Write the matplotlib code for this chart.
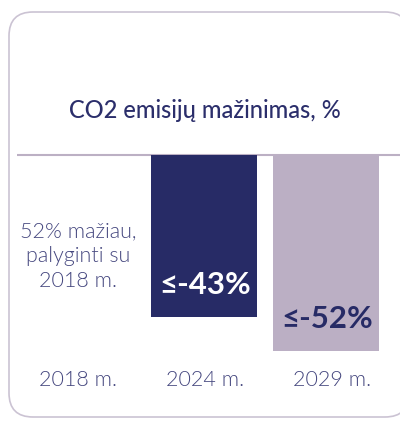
import matplotlib.pyplot as plt
from matplotlib.patches import FancyBboxPatch

years = ["2018 m.", "2024 m.", "2029 m."]
values = [0, -43, -52]
bar_labels = ["", "≤-43%", "≤-52%"]
title = "CO2 emisijų mažinimas, %"
note = "52% mažiau,\npalyginti su\n2018 m."

navy = "#272b66"
lilac = "#bbafc4"
text_col = "#45477f"

plt.rcParams["font.family"] = ["Lato", "DejaVu Sans"]

W, H = 400, 421
fig = plt.figure(figsize=(W / 100, H / 100), dpi=100)

# background layer in pixel coordinates (y down)
bg = fig.add_axes([0, 0, 1, 1])
bg.set_xlim(0, W)
bg.set_ylim(H, 0)
bg.axis("off")
card = FancyBboxPatch((9, 12), 400, 405, boxstyle="round,pad=0,rounding_size=24",
                      fc="white", ec="#cbc3d3", lw=1.2)
bg.add_patch(card)
bg.plot([17, 400], [155, 155], color="#bcb0c4", lw=1.5, solid_capstyle="butt")
bg.text(205, 110, title, ha="center", va="center", fontsize=17,
        fontweight="medium", color="#2b2e6b")

# data layer: zero at y=155px, 3.76 px per percent, bars 122 px apart
px_unit = 3.76
x0_px, step = 82, 122
ax = fig.add_axes([0, 0, 1, 1])
ax.patch.set_alpha(0)
ax.axis("off")
ax.set_xlim(-x0_px / step, (W - x0_px) / step)
zero_from_bottom = H - 155
ax.set_ylim(-zero_from_bottom / px_unit, (H - zero_from_bottom) / px_unit)

xs = list(range(len(years)))
ax.bar(xs[1:], values[1:], width=106 / step, color=[navy, lilac], align="center")

lab_cols = ["white", "white", navy]
for x, v, lab, c in zip(xs, values, bar_labels, lab_cols):
    if lab:
        ax.text(x + 0.01, v + 8.5, lab, ha="center", va="center", fontsize=22.5,
                fontweight="bold", color=c)

for x, yr in zip(xs, years):
    ax.text(x - 0.03 + 0.04 * x, -225 / px_unit, yr, ha="center", va="center",
            fontsize=15.5, fontweight=300, color=text_col)

ax.text(xs[0] - 0.03, -101 / px_unit, note, ha="center", va="center", fontsize=15.5,
        fontweight=300, color=text_col, linespacing=1.3)

fig.savefig("out.png", dpi=100)
